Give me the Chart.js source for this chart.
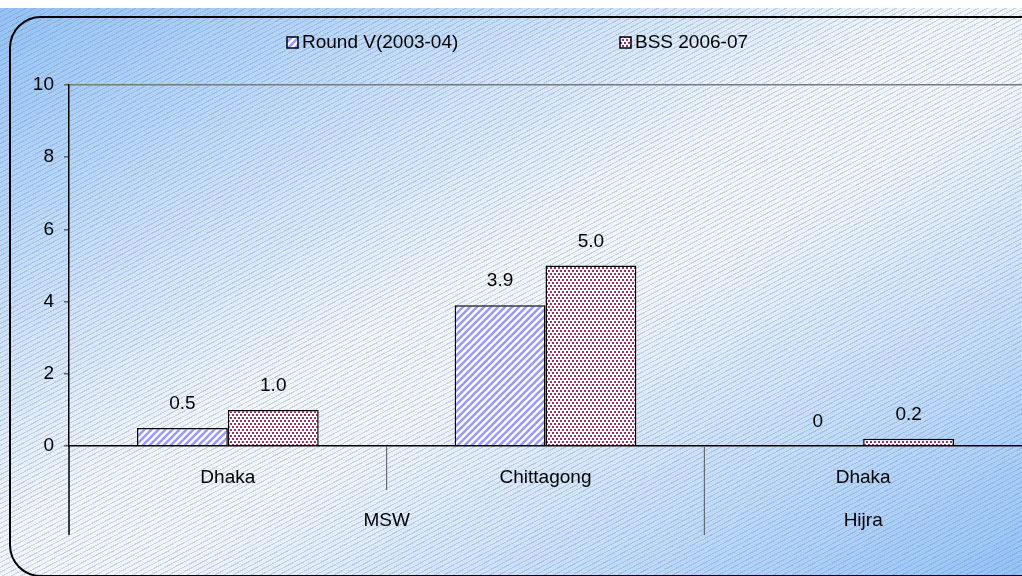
<!DOCTYPE html>
<html>
<head>
<meta charset="utf-8">
<script src="https://cdn.jsdelivr.net/npm/chart.js@4.4.1/dist/chart.umd.min.js"></script>
<style>
  html, body { margin: 0; padding: 0; background: #fff; }
  body { width: 1022px; height: 576px; position: relative; overflow: hidden; font-family: "Liberation Sans", Arial, sans-serif; }
  #bg {
    position: absolute; left: 0; top: 8px; width: 1022px; height: 568px;
    background:
      repeating-linear-gradient(152deg, rgba(255,255,255,0) 0px, rgba(255,255,255,0) 3.2px, rgba(110,110,120,0.26) 3.2px, rgba(110,110,120,0.26) 4.3px),
      linear-gradient(to bottom right, #92c3fb 0%, #f0f6ff 47%, #f0f6ff 56%, #92c3fb 100%);
  }
  #frame {
    position: absolute; left: 9px; top: 16px; width: 1060px; height: 557px;
    border: 2px solid #000; border-radius: 32px;
  }
  #chart { position: absolute; left: 0; top: 0; }
</style>
</head>
<body>
<div id="bg"></div>
<div id="frame"></div>
<canvas id="chart" width="1022" height="576"></canvas>
<script>
// data
const categories = ["Dhaka", "Chittagong", "Dhaka"];
const groupNames = ["MSW", "Hijra"];
const groupSizes = [2, 1];
const seriesNames = ["Round V(2003-04)", "BSS 2006-07"];
const roundV = [0.5, 3.9, 0];
const bss = [1.0, 5.0, 0.2];
const yTicks = [0, 2, 4, 6, 8, 10];

const FONT = "'Liberation Sans', Arial, sans-serif";

function stripePattern() {
  const c = document.createElement("canvas");
  c.width = 7; c.height = 7;
  const g = c.getContext("2d");
  g.fillStyle = "#fff";
  g.fillRect(0, 0, 7, 7);
  g.strokeStyle = "#9999ff";
  g.lineWidth = 2.6;
  [-7, 0, 7].forEach((o) => {
    g.beginPath();
    g.moveTo(o - 1, 8);
    g.lineTo(o + 8, -1);
    g.stroke();
  });
  return g.createPattern(c, "repeat");
}

function dotPattern() {
  const c = document.createElement("canvas");
  c.width = 4; c.height = 6;
  const g = c.getContext("2d");
  g.fillStyle = "#fff";
  g.fillRect(0, 0, 4, 6);
  g.fillStyle = "#993366";
  g.fillRect(0, 0, 2, 2);
  g.fillRect(2, 3, 2, 2);
  return g.createPattern(c, "repeat");
}

const fills = [stripePattern(), dotPattern()];
const legendX = [287, 620];

const extras = {
  id: "extras",
  afterDraw(chart) {
    const ctx = chart.ctx;
    const x = chart.scales.x;
    const area = chart.chartArea;
    ctx.save();

    // left axis continues down through the labels
    ctx.strokeStyle = "#000";
    ctx.lineWidth = 1.5;
    ctx.beginPath();
    ctx.moveTo(area.left, area.bottom);
    ctx.lineTo(area.left, 535);
    ctx.stroke();

    // dividers between categories / groups, group names
    let idx = 0;
    const half = (x.getPixelForValue(1) - x.getPixelForValue(0)) / 2;
    ctx.font = "19px " + FONT;
    ctx.fillStyle = "#000";
    ctx.textAlign = "center";
    ctx.textBaseline = "middle";
    groupSizes.forEach((n, gi) => {
      const start = x.getPixelForValue(idx) - half;
      const end = x.getPixelForValue(idx + n - 1) + half;
      ctx.strokeStyle = "#555";
      ctx.lineWidth = 1;
      for (let k = 1; k < n; k++) {
        const bx = x.getPixelForValue(idx + k) - half;
        ctx.beginPath();
        ctx.moveTo(bx, area.bottom);
        ctx.lineTo(bx, 490);
        ctx.stroke();
      }
      if (gi < groupSizes.length - 1) {
        ctx.beginPath();
        ctx.moveTo(end, area.bottom);
        ctx.lineTo(end, 535);
        ctx.stroke();
      }
      ctx.fillText(groupNames[gi], (start + end) / 2, 521);
      idx += n;
    });

    // value labels
    chart.data.datasets.forEach((ds, di) => {
      chart.getDatasetMeta(di).data.forEach((bar, i) => {
        const v = ds.data[i];
        ctx.fillText(v === 0 ? "0" : v.toFixed(1), bar.x, bar.y - 24);
      });
    });

    // legend
    ctx.textAlign = "left";
    chart.data.datasets.forEach((ds, di) => {
      const lx = legendX[di];
      ctx.fillStyle = ds.backgroundColor;
      ctx.fillRect(lx, 37, 11, 11);
      ctx.strokeStyle = "#000";
      ctx.lineWidth = 1.5;
      ctx.strokeRect(lx, 37, 11, 11);
      ctx.fillStyle = "#000";
      ctx.fillText(ds.label, lx + 15, 43);
    });
    ctx.restore();
  },
};

new Chart(document.getElementById("chart"), {
  type: "bar",
  data: {
    labels: categories,
    datasets: [
      { label: seriesNames[0], data: roundV, backgroundColor: fills[0], borderColor: "#000", borderWidth: 1.5, borderSkipped: "bottom" },
      { label: seriesNames[1], data: bss, backgroundColor: fills[1], borderColor: "#000", borderWidth: 1.5, borderSkipped: "bottom" },
    ],
  },
  options: {
    responsive: false,
    animation: false,
    events: [],
    layout: { padding: { left: 0, top: 85, right: 0, bottom: 0 } },
    categoryPercentage: 0.572,
    barPercentage: 1,
    plugins: { legend: { display: false }, tooltip: { enabled: false } },
    scales: {
      x: {
        afterFit(scale) { scale.height = 130; },
        grid: { display: false, drawTicks: false },
        border: { color: "#000", width: 1.5 },
        ticks: { color: "#000", font: { family: FONT, size: 19 }, padding: 20 },
      },
      y: {
        min: 0,
        max: 10,
        afterFit(scale) { scale.width = 69; },
        afterBuildTicks(scale) { scale.ticks = yTicks.map((v) => ({ value: v })); },
        grid: {
          color: (c) => (c.tick && c.tick.value === 10 ? "#7a7a7a" : "rgba(0,0,0,0)"),
          lineWidth: 1.5,
          tickColor: "#666",
          tickLength: 5,
        },
        border: { color: "#000", width: 1.5 },
        ticks: { color: "#000", font: { family: FONT, size: 19 }, padding: 10 },
      },
    },
  },
  plugins: [extras],
});
</script>
</body>
</html>
